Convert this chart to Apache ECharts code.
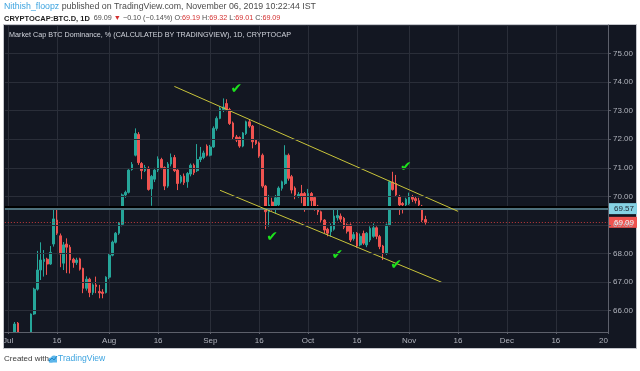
<!DOCTYPE html>
<html><head><meta charset="utf-8">
<script src="https://cdn.jsdelivr.net/npm/echarts@6/dist/echarts.min.js"></script>
<style>html,body{margin:0;padding:0;background:#fff;}#c{width:640px;height:371px;}</style>
</head><body><div id="c"></div><script>
// Daily candles from 2019-06-30 to 2019-11-06
const firstDate = '2019-06-30';
const openVals = [64.4,64.9,64.6,65.1,65.56,65.0,64.7,64.95,65.0,65.88,66.75,67.42,67.72,67.8,67.63,68.33,69.17,68.62,67.66,68.33,68.22,67.8,67.68,67.81,67.48,66.78,67.1,66.63,66.9,66.67,66.65,66.63,67.17,67.94,68.39,68.71,69.02,70.05,70.14,70.94,71.44,72.17,71.15,70.9,70.98,70.26,70.6,70.92,71.29,71.01,70.36,71.13,71.36,70.92,70.51,70.71,70.51,70.78,71.09,70.9,71.29,71.36,71.76,71.44,71.73,72.38,72.73,73.04,73.25,73.04,72.57,72.08,72.06,71.76,72.2,72.61,72.46,71.97,71.87,71.44,70.36,69.46,69.8,69.65,69.7,70.28,70.45,71.44,70.69,70.29,70.0,70.1,70.1,69.64,70.1,69.96,69.66,69.46,69.17,68.85,68.76,68.85,69.25,69.31,69.23,69.0,69.0,68.52,68.71,68.3,68.7,68.3,68.47,68.6,68.9,68.59,68.26,68.01,69.0,70.5,70.45,70.0,69.75,69.7,69.75,69.98,69.92,69.85,69.66,69.19];
const closeVals = [64.9,64.6,65.1,65.53,65.0,64.7,64.95,65.0,65.88,66.75,67.42,67.77,67.8,67.63,68.04,69.21,68.71,67.98,68.3,68.22,67.77,67.68,67.77,67.45,66.78,67.1,66.63,66.9,66.84,66.62,66.6,67.17,67.94,68.4,68.71,69.06,70.05,70.14,70.92,71.12,72.2,71.18,70.9,71.01,70.24,70.7,70.92,71.31,71.01,70.36,71.13,71.36,70.9,70.45,70.69,70.48,70.8,71.09,70.83,71.29,71.38,71.52,71.44,71.73,72.38,72.73,73.08,73.13,73.04,72.55,72.08,71.97,71.76,72.22,72.61,72.46,71.91,71.85,71.41,70.36,69.46,69.7,69.65,69.95,70.29,70.51,71.44,70.63,70.22,70.05,70.07,70.0,69.64,70.1,69.85,69.58,69.46,69.17,68.82,68.71,68.96,69.31,69.33,69.2,68.92,68.78,68.47,68.66,68.26,68.6,68.36,68.71,68.88,68.9,68.6,68.24,68.01,69.0,70.51,70.24,70.05,69.7,69.7,69.9,70.0,69.9,69.85,69.7,69.17,69.09];
const lowVals = [64.3,64.4,64.5,65.0,64.9,64.5,64.6,64.8,64.9,65.85,66.7,67.07,67.19,67.25,67.6,68.24,68.65,67.52,67.42,67.31,67.3,67.5,67.6,67.4,66.61,66.7,66.47,66.55,66.61,66.43,66.43,66.6,67.1,67.9,68.35,68.65,68.95,69.95,70.1,70.9,71.4,71.1,70.6,70.85,70.2,69.67,70.5,70.85,70.95,70.22,70.3,71.05,70.85,70.22,70.45,70.4,70.3,70.7,70.75,70.85,71.2,71.3,71.4,71.4,71.7,72.3,72.7,72.95,72.98,72.5,72.0,71.9,71.7,71.72,72.15,72.4,71.68,71.8,71.35,70.3,68.85,68.94,69.5,69.4,69.55,70.2,70.4,70.55,70.1,69.9,69.95,69.76,69.46,69.6,69.6,69.5,69.35,69.1,68.71,68.6,68.59,68.8,69.15,69.1,68.85,68.7,68.4,68.45,68.2,68.25,68.3,68.22,68.4,68.55,68.5,68.15,67.77,67.95,68.95,70.2,70.0,69.35,69.4,69.6,69.7,69.8,69.75,69.6,69.1,69.01];
const highVals = [65.0,65.1,65.2,65.6,65.6,65.1,65.1,65.2,65.9,66.8,68.09,68.39,68.12,67.85,68.26,69.55,69.55,68.7,68.4,68.53,68.3,67.85,67.85,67.85,67.5,67.2,67.15,66.95,67.19,66.9,66.75,67.2,68.0,68.45,68.75,69.1,70.1,70.2,70.95,71.2,72.38,72.25,71.2,71.1,71.05,70.75,71.0,71.4,71.35,71.05,71.2,71.5,71.45,70.95,70.75,70.8,70.85,71.15,71.15,71.83,71.73,71.6,71.82,71.8,72.45,72.8,73.15,73.43,73.4,73.1,72.62,72.15,72.1,72.25,72.65,72.7,72.5,72.0,71.92,71.5,70.4,70.05,69.95,70.05,70.35,70.55,71.79,71.5,70.75,70.35,70.15,70.4,70.15,70.26,70.15,70.0,69.7,69.5,69.2,68.9,69.05,69.64,69.6,69.4,69.28,69.05,69.05,68.75,68.75,68.7,68.8,68.75,68.95,69.05,68.95,68.65,68.3,69.05,70.55,70.86,70.75,70.05,69.8,69.95,70.13,70.05,70.0,69.95,69.7,69.32];
// last category of the axis
const lastDate = '2020-01-01';
// x tick labels (1st of month -> month name, 16th -> '16')
const monthLabels = {7:'Jul',8:'Aug',9:'Sep',10:'Oct',11:'Nov',12:'Dec',1:'20'};
// y axis range
const yMin = 65.25, yMax = 76.0;
// horizontal levels
const levelLine = 69.57;
const lastPrice = 69.09;
// channel trend lines [date, value] pairs
const upperLine = [['2019-08-21', 73.85], ['2019-11-16', 69.475]];
const lowerLine = [['2019-09-04', 70.213], ['2019-11-11', 66.99]];
// check mark annotations
const checkDates = ['2019-09-09','2019-09-20','2019-10-10','2019-10-28','2019-10-31'];
const checkValues = [73.75, 68.55, 67.92, 67.6, 71.03];

function fmt(d){const m=d.getUTCMonth()+1, dd=d.getUTCDate();return d.getUTCFullYear()+'-'+(m<10?'0':'')+m+'-'+(dd<10?'0':'')+dd;}
const dates = [];
for (let t = Date.parse(firstDate+'T00:00:00Z'); t <= Date.parse(lastDate+'T00:00:00Z'); t += 86400000) dates.push(fmt(new Date(t)));
const candles = openVals.map((o,i)=>[o, closeVals[i], lowVals[i], highVals[i]]);

function isTick(idx, val){ const d = +val.slice(8,10); return d===1 || d===16; }

const UP='#26a69a', DOWN='#ef5350';
const FONT='Liberation Sans';
const GRID_L=4, GRID_R=32, GRID_T=25, GRID_B=39;
const chart = echarts.init(document.getElementById('c'), null, {renderer:'canvas'});
const W=640, H=371;
chart.setOption({
  animation:false,
  backgroundColor:'#ffffff',
  textStyle:{fontFamily:FONT},
  graphic:[
    {type:'rect', z:-10, silent:true, shape:{x:3.5,y:24.5,width:633,height:324}, style:{fill:'#131722', stroke:'#c4c6cc', lineWidth:1}},
    // cover below the plot area so candles are clipped at the axis line
    {type:'rect', z:5, silent:true, shape:{x:GRID_L, y:H-GRID_B+0.5, width:W-GRID_L-GRID_R, height:15.5}, style:{fill:'#131722'}},
    {type:'text', z:20, x:4, y:7, silent:true, style:{text:'{a|Nithish_floopz} {b|published on TradingView.com, November 06, 2019 10:22:44 IST}', verticalAlign:'middle', font:'8.8px '+FONT, rich:{a:{fill:'#3da4e0', font:'8.8px '+FONT}, b:{fill:'#4b4b4b', font:'8.8px '+FONT}}}},
    {type:'text', z:20, x:4, y:18.5, silent:true, style:{text:'{k|CRYPTOCAP:BTC.D, 1D}  {n|69.09} {r|▼} {n|−0.10 (−0.14%)} {n|O:}{r|69.19} {n|H:}{r|69.32} {n|L:}{r|69.01} {n|C:}{r|69.09}', verticalAlign:'middle', font:'7.2px '+FONT, rich:{k:{fill:'#1e1e1e', font:'bold 7.5px '+FONT}, n:{fill:'#4b4b4b', font:'7.2px '+FONT}, r:{fill:'#d32f2f', font:'7.2px '+FONT}}}},
    {type:'text', z:20, x:9, y:35, silent:true, style:{text:'Market Cap BTC Dominance, % (CALCULATED BY TRADINGVIEW), 1D, CRYPTOCAP', verticalAlign:'middle', fill:'#d1d4dc', font:'7.2px '+FONT}},
    {type:'text', z:20, x:4, y:359, silent:true, style:{text:'Created with', verticalAlign:'middle', fill:'#3a3a3a', font:'8px '+FONT}},
    {type:'group', z:20, x:48, y:355, silent:true, children:[
      {type:'circle', shape:{cx:3,cy:5,r:2.6}, style:{fill:'#5bb5ea'}},
      {type:'circle', shape:{cx:6,cy:3.5,r:3}, style:{fill:'#5bb5ea'}},
      {type:'rect', shape:{x:1,y:4.5,width:8,height:3}, style:{fill:'#5bb5ea'}},
      {type:'polyline', shape:{points:[[1,6],[4,3],[6,5],[9,1]]}, style:{stroke:'#1e88c8', lineWidth:1, fill:null}}
    ]},
    {type:'text', z:20, x:58, y:359, silent:true, style:{text:'TradingView', verticalAlign:'middle', fill:'#3da4e0', font:'8.6px '+FONT}}
  ],
  grid:{left:GRID_L, right:GRID_R, top:GRID_T, bottom:GRID_B, containLabel:false},
  xAxis:[{
    type:'category', data:dates, boundaryGap:false, z:0,
    axisLine:{show:false}, axisTick:{show:false}, axisLabel:{show:false},
    splitLine:{show:true, interval:isTick, lineStyle:{color:'#2a2e39', width:1}}
  },{
    type:'category', data:dates, boundaryGap:false, z:6, position:'bottom',
    axisLine:{show:true, onZero:false, lineStyle:{color:'#5d606b', width:1}},
    axisTick:{show:true, interval:isTick, length:2, lineStyle:{color:'#5d606b'}},
    axisLabel:{interval:isTick, color:'#b2b5be', fontSize:8, margin:5,
      formatter:function(v){ const m=+v.slice(5,7), d=+v.slice(8,10); if(d===16) return '16'; if(m===1) return '{yr|'+monthLabels[m]+'}'; return monthLabels[m]; },
      rich:{yr:{color:'#b2b5be', fontSize:8, padding:[0,9,0,0]}}},
    splitLine:{show:false}
  }],
  yAxis:{
    type:'value', position:'right', min:yMin, max:yMax, splitNumber:10, scale:true, z:6,
    axisLine:{show:true, lineStyle:{color:'#5d606b'}},
    axisTick:{show:true, length:3, lineStyle:{color:'#5d606b'}},
    axisLabel:{color:'#b2b5be', fontSize:8, margin:5, showMinLabel:false, showMaxLabel:false, formatter:v=>v.toFixed(2)},
    splitLine:{show:true, lineStyle:{color:'#2a2e39', width:1}}
  },
  series:[{
    type:'candlestick', data:candles, xAxisIndex:0, barWidth:'66%', clip:true, z:2,
    itemStyle:{color:UP, color0:DOWN, borderColor:UP, borderColor0:DOWN, borderWidth:1},
    markLine:{
      silent:true, symbol:['none','none'], animation:false,
      data:[
        {yAxis:levelLine, lineStyle:{color:'#4d707c', width:2, type:'solid', shadowColor:'#000000', shadowBlur:0, shadowOffsetY:-2},
          label:{show:true, position:'end', distance:0, formatter:levelLine.toFixed(2), backgroundColor:'#86d2e4', color:'#1c2530', fontSize:8, padding:[2,3,1,6]}},
        {yAxis:lastPrice, lineStyle:{color:'#c23a3c', width:1, type:[1,2]},
          label:{show:true, position:'end', distance:0, formatter:lastPrice.toFixed(2), backgroundColor:'#ef5350', color:'#ffffff', fontSize:8, padding:[2,3,1,6]}},
        [{coord:upperLine[0]},{coord:upperLine[1]}],
        [{coord:lowerLine[0]},{coord:lowerLine[1]}]
      ].map((d,i)=> i>=2 ? d.map(p=>Object.assign(p,{lineStyle:{color:'#c9c43a', width:1, type:'solid'}, label:{show:false}})) : d)
    },
    markPoint:{
      silent:true, symbol:'circle', symbolSize:1, itemStyle:{color:'rgba(0,0,0,0)'},
      label:{show:true, position:'inside', formatter:'✔', color:'#1de21d', fontSize:14, fontWeight:'bold', fontFamily:'DejaVu Sans'},
      data: checkDates.map((d,i)=>({coord:[d, checkValues[i]]}))
    }
  }]
});
</script></body></html>
